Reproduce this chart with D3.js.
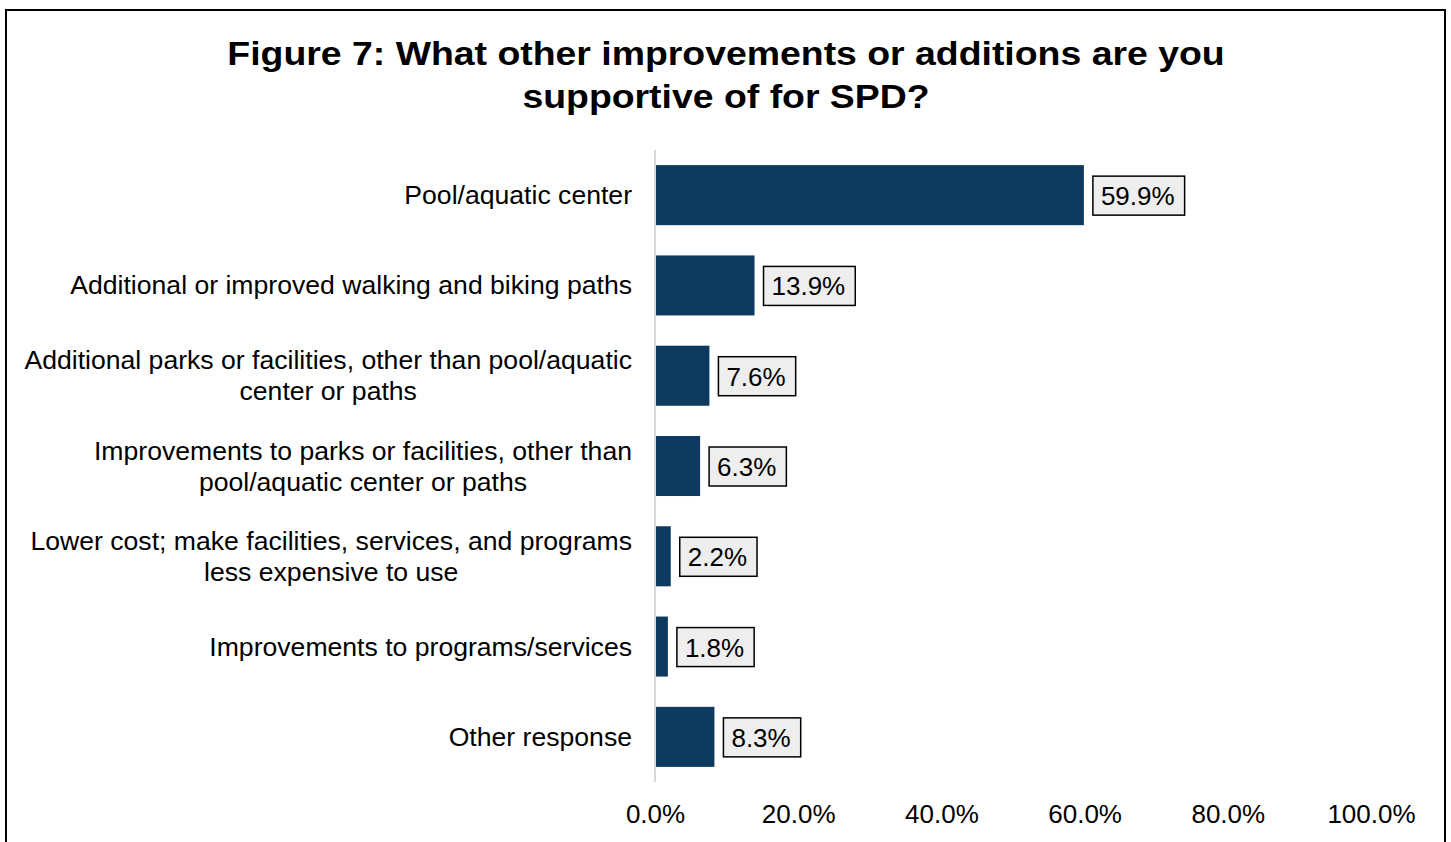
<!DOCTYPE html>
<html>
<head>
<meta charset="utf-8">
<script src="https://cdn.jsdelivr.net/npm/d3@7"></script>
<style>
  body { margin: 0; background: #fff; }
  text { font-family: "Liberation Sans", Arial, sans-serif; fill: #000; }
</style>
</head>
<body>
<div class="chart"></div>
<script>
var titleLines = ["Figure 7: What other improvements or additions are you", "supportive of for SPD?"];

var categories = [
  ["Pool/aquatic center"],
  ["Additional or improved walking and biking paths"],
  ["Additional parks or facilities, other than pool/aquatic", "center or paths"],
  ["Improvements to parks or facilities, other than", "pool/aquatic center or paths"],
  ["Lower cost; make facilities, services, and programs", "less expensive to use"],
  ["Improvements to programs/services"],
  ["Other response"]
];
var values = [59.9, 13.9, 7.6, 6.3, 2.2, 1.8, 8.3];
var tickValues = [0, 20, 40, 60, 80, 100];

var W = 1451, H = 842;
var margin = {top: 150, left: 655, right: 80, bottom: 60};
var width = 1371 - margin.left,
    height = 782 - margin.top;

var svg = d3.select(".chart").append("svg")
    .attr("width", W)
    .attr("height", H);

// outer frame
svg.append("rect")
    .attr("x", 6).attr("y", 10)
    .attr("width", 1439).attr("height", 860)
    .attr("fill", "none")
    .attr("stroke", "#000")
    .attr("stroke-width", 2);

// title (a little wider than Liberation Sans Bold, so stretched)
svg.append("g")
    .attr("transform", "translate(726,0) scale(1.1,1)")
  .selectAll(".title")
    .data(titleLines)
    .enter().append("text")
    .attr("class", "title")
    .attr("x", 0)
    .attr("y", function(d, i){ return 65 + i * 43; })
    .attr("text-anchor", "middle")
    .style("font-size", "34px")
    .style("font-weight", "bold")
    .text(function(d){ return d; });

var g = svg.append("g")
    .attr("transform", "translate(" + margin.left + "," + margin.top + ")");

var x = d3.scaleLinear().domain([0, 100]).range([0, width]);
var y = d3.scaleBand()
    .domain(d3.range(values.length))
    .range([0, height])
    .paddingInner(0.335)
    .paddingOuter(0.1675);

// x axis labels
var xAxis = d3.axisBottom(x)
    .tickValues(tickValues)
    .tickSize(0)
    .tickPadding(0)
    .tickFormat(function(d){ return d.toFixed(1) + "%"; });

var ax = g.append("g")
    .attr("transform", "translate(0," + height + ")")
    .call(xAxis);
ax.select(".domain").remove();
ax.selectAll("text")
    .attr("y", 41)
    .attr("dy", null)
    .style("font-size", "26px")
    .style("font-family", "Liberation Sans, Arial, sans-serif")
    .attr("fill", "#000");

// bars
g.selectAll(".bar")
    .data(values)
    .enter().append("rect")
    .attr("class", "bar")
    .attr("x", x(0))
    .attr("y", function(d, i){ return y(i); })
    .attr("width", function(d){ return x(d) - x(0); })
    .attr("height", y.bandwidth())
    .attr("fill", "#0e3a5f");

// vertical axis line
g.append("line")
    .attr("x1", x(0)).attr("x2", x(0))
    .attr("y1", 0).attr("y2", height)
    .attr("stroke", "#d9d9d9")
    .attr("stroke-width", 2);

// category labels, multi-line centered on the widest line
var labelRight = -23;
categories.forEach(function(lines, i){
  var cy = y(i) + y.bandwidth() / 2;
  var t = g.append("text")
      .style("font-size", "26.6px")
      .attr("text-anchor", "middle");
  var spans = lines.map(function(line, j){
    return t.append("tspan")
        .attr("y", cy + 9 + (j - (lines.length - 1) / 2) * 31)
        .text(line);
  });
  var maxW = d3.max(spans, function(s){ return s.node().getComputedTextLength(); });
  spans.forEach(function(s){ s.attr("x", labelRight - maxW / 2); });
});

// value labels with boxes
values.forEach(function(d, i){
  var cy = y(i) + y.bandwidth() / 2;
  var lg = g.append("g");
  var box = lg.append("rect");
  var t = lg.append("text")
      .attr("x", x(d) + 17)
      .attr("y", cy + 10)
      .style("font-size", "26px")
      .text(d.toFixed(1) + "%");
  var bb = t.node().getBBox();
  box.attr("x", bb.x - 8)
      .attr("y", cy - 19)
      .attr("width", bb.width + 18)
      .attr("height", 39)
      .attr("fill", "#eeeeee")
      .attr("stroke", "#000")
      .attr("stroke-width", 1.5);
});
</script>
</body>
</html>
